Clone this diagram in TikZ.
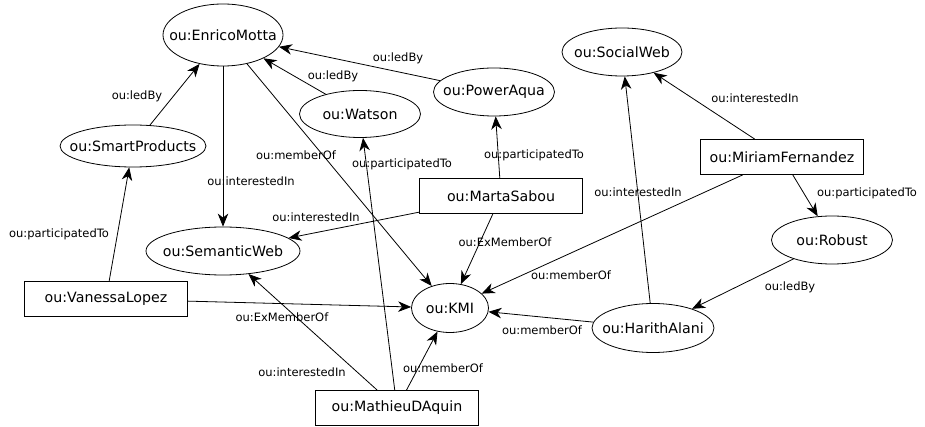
\documentclass[tikz,border=0pt]{standalone}
\usepackage{fontspec}
\setmainfont{DejaVu Sans}
\usetikzlibrary{shapes.geometric,arrows.meta}
\begin{document}
\begin{tikzpicture}[x=1pt,y=-1pt,
  nfont/.style={font=\fontsize{14.2}{16}\selectfont},
  ell/.style={draw,ellipse,inner sep=0pt,line width=0.8pt},
  etext/.style={inner sep=0pt,nfont},
  box/.style={draw,rectangle,inner sep=0pt,line width=0.8pt,minimum width=163pt,minimum height=35pt,nfont},
  rel/.style={draw,line width=0.8pt,-{Stealth[length=13pt,width=10.5pt,inset=4pt]}},
  lbl/.style={inner sep=0pt,font=\fontsize{11.5}{13}\selectfont}]
\useasboundingbox (0,0) rectangle (925,427);
% entities (ellipses: outline node + text node)
\node[ell,minimum width=120pt,minimum height=62pt] (enrico) at (223,35) {};
\node[etext] (enricoT) at (enrico.center) {ou:EnricoMotta};
\node[ell,minimum width=146pt,minimum height=42pt] (smart) at (133,146) {};
\node[etext] (smartT) at (smart.center) {ou:SmartProducts};
\node[ell,minimum width=121pt,minimum height=47pt] (watson) at (360,114) {};
\node[etext] (watsonT) at (watson.center) {ou:Watson};
\node[ell,minimum width=121pt,minimum height=48pt] (power) at (494,92) {};
\node[etext] (powerT) at (power.center) {ou:PowerAqua};
\node[ell,minimum width=120pt,minimum height=48pt] (social) at (622,52) {};
\node[etext] (socialT) at (social.center) {ou:SocialWeb};
\node[ell,minimum width=121pt,minimum height=48pt] (robust) at (832,240) {};
\node[etext] (robustT) at (robust.center) {ou:Robust};
\node[ell,minimum width=122pt,minimum height=49pt] (harith) at (653,328) {};
\node[etext] (harithT) at (harith.center) {ou:HarithAlani};
\node[ell,minimum width=77pt,minimum height=49pt] (kmi) at (450,308) {};
\node[etext] (kmiT) at (kmi.center) {ou:KMI};
\node[ell,minimum width=154pt,minimum height=48pt] (semweb) at (223,251) {};
\node[etext] (semwebT) at (semweb.center) {ou:SemanticWeb};
\node[box] (marta) at (501,196) {ou:MartaSabou};
\node[box] (miriam) at (782,157) {ou:MiriamFernandez};
\node[box] (mathieu) at (397,408) {ou:MathieuDAquin};
\node[box] (vanessa) at (106,299) {ou:VanessaLopez};
% relations
\draw[rel] (smart) -- (enrico);
\draw[rel] (power) -- (enrico);
\draw[rel] (watson) -- (enrico);
\draw[rel] (enrico) -- (semweb);
\draw[rel] (enrico) -- (kmi);
\draw[rel] (mathieu) -- (watson);
\draw[rel] (marta) -- (power);
\draw[rel] (marta) -- (semweb);
\draw[rel] (marta) -- (kmi);
\draw[rel] (miriam) -- (social);
\draw[rel] (miriam) -- (robust);
\draw[rel] (miriam) -- (kmi);
\draw[rel] (harith) -- (social);
\draw[rel] (harith) -- (kmi);
\draw[rel] (robust) -- (harith);
\draw[rel] (vanessa) -- (smart);
\draw[rel] (vanessa) -- (kmi);
\draw[rel] (mathieu) -- (semweb);
\draw[rel] (mathieu) -- (kmi);
% labels
\node[lbl] (l1) at (137,96) {ou:ledBy};
\node[lbl] (l2) at (398,58) {ou:ledBy};
\node[lbl] (l3) at (333,76) {ou:ledBy};
\node[lbl] (l4) at (251,181) {ou:interestedIn};
\node[lbl] (l5) at (296,155) {ou:memberOf};
\node[lbl] (l6) at (402,164) {ou:participatedTo};
\node[lbl] (l7) at (534,155) {ou:participatedTo};
\node[lbl] (l8) at (316,217) {ou:interestedIn};
\node[lbl] (l9) at (505,242) {ou:ExMemberOf};
\node[lbl] (l10) at (755,98) {ou:interestedIn};
\node[lbl] (l11) at (867,193) {ou:participatedTo};
\node[lbl] (l12) at (571,275) {ou:memberOf};
\node[lbl] (l13) at (638,192) {ou:interestedIn};
\node[lbl] (l14) at (542,330) {ou:memberOf};
\node[lbl] (l15) at (790,287) {ou:ledBy};
\node[lbl] (l16) at (59,234) {ou:participatedTo};
\node[lbl] (l17) at (282,317) {ou:ExMemberOf};
\node[lbl] (l18) at (302,372) {ou:interestedIn};
\node[lbl] (l19) at (443,368) {ou:memberOf};
\end{tikzpicture}
\end{document}
